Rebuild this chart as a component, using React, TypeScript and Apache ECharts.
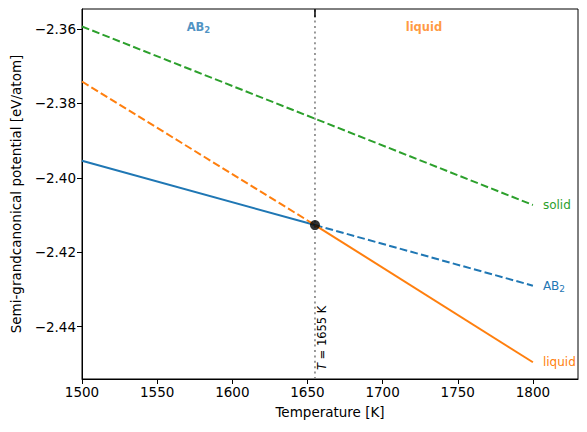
import React, { useEffect, useRef } from "react";
import * as echarts from "echarts";

// Data
const xTicks = [1500, 1550, 1600, 1650, 1700, 1750, 1800];
const yTicks = [-2.44, -2.42, -2.4, -2.38, -2.36];
const xRange = [1500, 1830];
const yRange = [-2.4541, -2.3546];

const tempStart = 1500;
const tempEnd = 1800;
const tMelt = 1655;

// solid (green): dashed over whole range
const solidStart = -2.3593;
const solidEnd = -2.4073;
// AB2 (blue): solid below Tm, dashed above
const ab2Start = -2.3954;
const ab2AtTm = -2.4127;
const ab2End = -2.429;
// liquid (orange): dashed below Tm, solid above
const liquidStart = -2.3741;
const liquidAtTm = -2.4127;
const liquidEnd = -2.4496;

const phaseLabelX = [1577.5, 1727.5];
const phaseLabelY = -2.3594;
const tLabelY = -2.4517;

const BLUE = "#1f77b4";
const ORANGE = "#ff7f0e";
const GREEN = "#2ca02c";
const FONT = "DejaVu Sans";
const DASH = [7.7, 3.3];

const fmtMinus = (v: number, d: number) => {
  const s = v.toFixed(d);
  return s.replace("-", "\u2212");
};

export default function App() {
  const ref = useRef<HTMLDivElement>(null);
  useEffect(() => {
    if (!ref.current) return;
    document.body.style.margin = "0";
    const chart = echarts.init(ref.current, null, { renderer: "svg" });
    const lineBase = {
      type: "line" as const,
      showSymbol: false,
      symbol: "none",
      silent: true,
    };
    const endLabel = (color: string, text: string) => ({
      show: true,
      formatter: () => text,
      color,
      fontFamily: FONT,
      fontSize: 12,
      distance: 10,
      rich: {
        sub: { fontSize: 9, color, fontFamily: FONT, verticalAlign: "bottom", padding: [6, 0, 0, 0] },
      },
    });
    chart.setOption({
      animation: false,
      textStyle: { fontFamily: FONT },
      grid: {
        left: 82,
        right: 9,
        top: 9,
        bottom: 53,
        show: true,
        borderColor: "#000",
        borderWidth: 1,
        backgroundColor: "transparent",
      },
      xAxis: {
        type: "value",
        min: xRange[0],
        max: xRange[1],
        name: "Temperature [K]",
        nameLocation: "middle",
        nameGap: 26,
        nameTextStyle: { fontFamily: FONT, fontSize: 13.5, color: "#000" },
        axisLine: { show: true, lineStyle: { color: "#000", width: 1 } },
        axisTick: { show: true, length: 5, lineStyle: { color: "#000" }, customValues: xTicks },
        axisLabel: {
          color: "#000",
          fontFamily: FONT,
          fontSize: 13.5,
          margin: 6,
          customValues: xTicks,
          formatter: (v: number) => String(v),
        },
        splitLine: { show: false },
      },
      yAxis: {
        type: "value",
        min: yRange[0],
        max: yRange[1],
        name: "Semi-grandcanonical potential [eV/atom]",
        nameLocation: "middle",
        nameGap: 59,
        nameTextStyle: { fontFamily: FONT, fontSize: 13.5, color: "#000" },
        axisLine: { show: true, lineStyle: { color: "#000", width: 1 } },
        axisTick: { show: true, length: 5, lineStyle: { color: "#000" }, customValues: yTicks },
        axisLabel: {
          color: "#000",
          fontFamily: FONT,
          fontSize: 13.5,
          margin: 6,
          customValues: yTicks,
          formatter: (v: number) => fmtMinus(v, 2),
        },
        splitLine: { show: false },
      },
      series: [
        {
          ...lineBase,
          name: "Tm",
          data: [
            [tMelt, yRange[0]],
            [tMelt, yRange[1]],
          ],
          lineStyle: { color: "#808080", width: 1.6, type: [2, 3.4] },
          z: 1,
        },
        {
          ...lineBase,
          name: "TmTop",
          data: [
            [tMelt, yRange[1]],
            [tMelt, -2.3568],
          ],
          lineStyle: { color: "#000", width: 1.5 },
          z: 1,
        },
        {
          ...lineBase,
          name: "solid",
          data: [
            [tempStart, solidStart],
            [tempEnd, solidEnd],
          ],
          lineStyle: { color: GREEN, width: 2, type: DASH },
          endLabel: endLabel(GREEN, "solid"),
          z: 2,
        },
        {
          ...lineBase,
          name: "ab2Stable",
          data: [
            [tempStart, ab2Start],
            [tMelt, ab2AtTm],
          ],
          lineStyle: { color: BLUE, width: 2 },
          z: 2,
        },
        {
          ...lineBase,
          name: "ab2Meta",
          data: [
            [tMelt, ab2AtTm],
            [tempEnd, ab2End],
          ],
          lineStyle: { color: BLUE, width: 2, type: DASH },
          endLabel: endLabel(BLUE, "AB{sub|2}"),
          z: 2,
        },
        {
          ...lineBase,
          name: "liquidMeta",
          data: [
            [tempStart, liquidStart],
            [tMelt, liquidAtTm],
          ],
          lineStyle: { color: ORANGE, width: 2, type: DASH },
          z: 3,
        },
        {
          ...lineBase,
          name: "liquidStable",
          data: [
            [tMelt, liquidAtTm],
            [tempEnd, liquidEnd],
          ],
          lineStyle: { color: ORANGE, width: 2 },
          endLabel: endLabel(ORANGE, "liquid"),
          z: 3,
        },
        {
          type: "scatter",
          name: "transition",
          data: [[tMelt, ab2AtTm]],
          symbol: "circle",
          symbolSize: 10,
          itemStyle: { color: "#000" },
          silent: true,
          z: 5,
        },
        {
          type: "scatter",
          name: "phases",
          data: [
            [phaseLabelX[0], phaseLabelY, "AB"],
            [phaseLabelX[1], phaseLabelY, "liquid"],
          ],
          symbolSize: 0,
          silent: true,
          label: {
            show: true,
            position: "inside",
            fontFamily: FONT,
            fontWeight: "bold",
            fontSize: 11.5,
            formatter: (p: any) =>
              p.dataIndex === 0 ? "{b|AB}{s|2}" : "{o|liquid}",
            rich: {
              b: { color: BLUE, fontWeight: "bold", fontSize: 11.5, fontFamily: FONT },
              s: {
                color: BLUE,
                fontWeight: "bold",
                fontSize: 8.5,
                fontFamily: FONT,
                verticalAlign: "bottom",
                padding: [6, 0, 0, 0],
              },
              o: { color: ORANGE, fontWeight: "bold", fontSize: 11.5, fontFamily: FONT },
            },
          },
          z: 4,
        },
      ],
    });
    const p = chart.convertToPixel({ gridIndex: 0 }, [tMelt, tLabelY]) as number[];
    chart.setOption({
      graphic: [
        {
          type: "text",
          x: p[0] + 7,
          y: p[1],
          rotation: Math.PI / 2,
          silent: true,
          style: {
            text: "{i|T} = 1655 K",
            align: "left",
            verticalAlign: "middle",
            fill: "#000",
            fontFamily: FONT,
            fontSize: 11.5,
            rich: {
              i: { fontStyle: "italic", fontFamily: FONT, fontSize: 11.5, fill: "#000" },
            },
          },
        },
      ],
    });
    return () => chart.dispose();
  }, []);
  return <div ref={ref} style={{ width: 587, height: 432 }} />;
}
